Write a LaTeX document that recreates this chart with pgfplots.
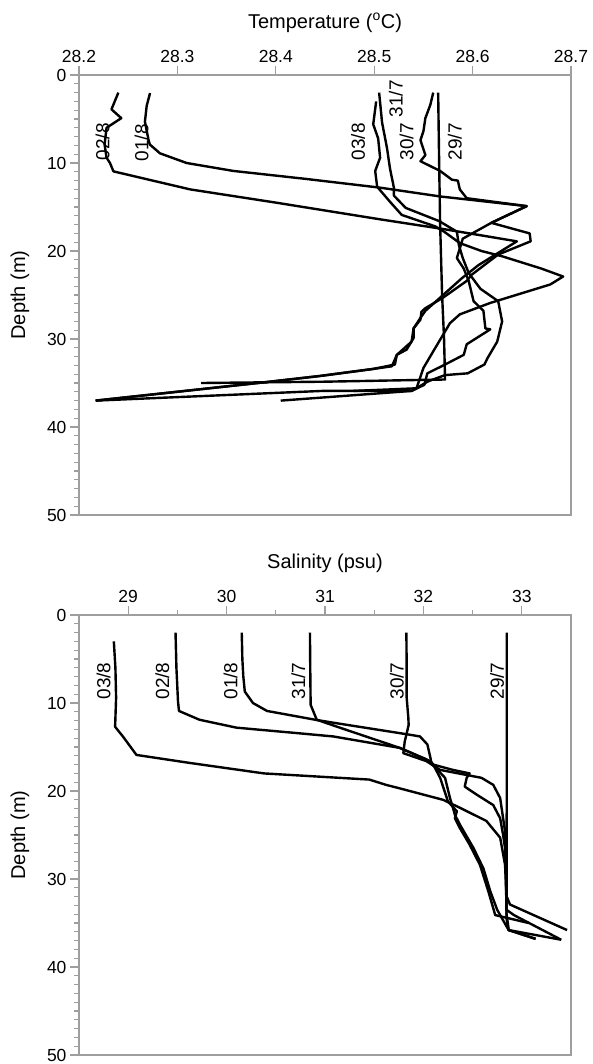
\documentclass[border=0pt]{standalone}
\usepackage{fontspec}
\setmainfont{Liberation Sans}
\usepackage{pgfplots}
\pgfplotsset{compat=1.18}
\definecolor{axgray}{gray}{0.62}
\tikzset{lab/.style={rotate=90, font=\fontsize{19}{19}\selectfont, inner sep=0pt}}
\begin{document}
\begin{tikzpicture}
\useasboundingbox (0pt,-2pt) rectangle (592pt,-1066pt);
\pgfplotsset{
  prof/.style={black, line width=2.4pt, line join=round, no markers, sharp plot},
  common/.style={
    scale only axis, width=492pt, height=440pt,
    y dir=reverse, ymin=0, ymax=50, ytick={0,10,...,50}, minor y tick num=9,
    xtick pos=right, xticklabel pos=right, ytick pos=left,
    tick align=outside, major tick length=9pt, minor tick length=5pt,
    axis line style={axgray, line width=1.2pt},
    tick style={axgray, line width=1.1pt},
    tick label style={font=\fontsize{17.5}{17.5}\selectfont, text=black},
    /pgf/number format/assume math mode=true,
    label style={font=\fontsize{20}{20}\selectfont},
    ylabel={Depth (m)},
    ylabel style={at={(axis description cs:0,0.5)}, anchor=center, yshift=59pt},
    xlabel style={at={(axis description cs:0.5,1)}, anchor=base, yshift=47pt},
    clip=false,
  }
}
% ---------------- Temperature ----------------
\begin{axis}[common, at={(79pt,-517pt)}, anchor=south west,
  xmin=28.2, xmax=28.7, xtick={28.2,28.3,28.4,28.5,28.6,28.7},
  xticklabel style={/pgf/number format/.cd, fixed, fixed zerofill, precision=1},
  xlabel={Temperature (\textsuperscript{o}C)}]
% 02/8
\addplot[prof] coordinates {(28.240,2.0)(28.233,3.9)(28.243,4.9)(28.228,6.0)(28.226,7.9)(28.228,9.4)(28.2315,10.0)(28.235,10.95)(28.313,13.0)(28.40,14.5)(28.506,16.4)(28.570,17.5)(28.645,18.9)(28.632,19.8)(28.606,21.6)(28.589,23.1)(28.570,25.0)(28.552,26.8)(28.547,27.6)(28.540,28.8)(28.540,29.9)(28.533,31.2)(28.523,31.8)(28.521,32.9)(28.499,33.4)(28.445,34.2)(28.39,34.9)(28.217,37.0)};
% 01/8
\addplot[prof] coordinates {(28.2722,2.05)(28.2688,3.5)(28.267,5.3)(28.2705,7.3)(28.272,7.9)(28.2823,8.9)(28.3094,10.0)(28.3568,10.9)(28.43,11.8)(28.5059,12.8)(28.567,13.8)(28.655,14.9)(28.619,16.8)(28.658,18.0)(28.659,18.9)(28.626,20.4)(28.599,22.7)(28.594,23.4)(28.570,25.3)(28.552,26.5)(28.548,26.9)(28.547,27.8)(28.540,28.8)(28.538,30.3)(28.523,31.8)(28.518,33.1)(28.499,33.4)(28.445,34.2)(28.39,34.9)(28.217,37.0)};
% 30/7
\addplot[prof] coordinates {(28.560,2.0)(28.557,3.4)(28.552,4.9)(28.550,6.4)(28.547,7.4)(28.552,9.1)(28.547,9.8)(28.567,10.9)(28.579,11.9)(28.585,12.0)(28.587,13.0)(28.594,14.0)(28.655,14.9)(28.619,16.8)(28.59,18.6)(28.584,20.8)(28.591,22.0)(28.596,23.4)(28.601,25.7)(28.611,26.8)(28.613,28.8)(28.618,28.9)(28.594,30.6)(28.591,31.8)(28.572,32.9)(28.554,33.9)(28.551,35.2)(28.538,35.9)(28.405,37.0)};
% 31/7
\addplot[prof] coordinates {(28.505,2.0)(28.508,5.4)(28.513,8.3)(28.516,10.6)(28.520,12.8)(28.520,13.7)(28.532,15.1)(28.566,16.6)(28.584,17.8)(28.586,19.3)(28.590,20.8)(28.596,22.5)(28.608,24.3)(28.626,25.7)(28.630,28.0)(28.625,30.3)(28.615,32.2)(28.612,32.9)(28.595,33.9)(28.572,34.1)(28.555,34.8)(28.538,35.9)(28.447,35.9)(28.217,37.0)};
% 03/8
\addplot[prof] coordinates {(28.502,3.0)(28.499,5.6)(28.504,7.2)(28.506,9.4)(28.501,10.9)(28.503,12.7)(28.516,14.4)(28.528,15.9)(28.562,17.2)(28.571,17.8)(28.587,19.1)(28.609,20.0)(28.630,20.6)(28.670,22.0)(28.692,22.9)(28.679,23.8)(28.618,25.9)(28.587,27.2)(28.577,28.2)(28.560,31.4)(28.550,33.3)(28.543,35.6)(28.479,35.9)};
% 29/7
\addplot[prof] coordinates {(28.565,2.0)(28.566,10)(28.567,17)(28.569,25)(28.571,30)(28.572,34.6)(28.45,34.85)(28.324,35.0)};
\node[lab] at (axis cs:28.224,7.6) {02/8};
\node[lab] at (axis cs:28.2635,7.7) {01/8};
\node[lab] at (axis cs:28.4835,7.6) {03/8};
\node[lab] at (axis cs:28.522,2.7) {31/7};
\node[lab] at (axis cs:28.533,7.6) {30/7};
\node[lab] at (axis cs:28.582,7.6) {29/7};
\end{axis}
% ---------------- Salinity ----------------
\begin{axis}[common, at={(79pt,-1057pt)}, anchor=south west,
  xmin=28.5, xmax=33.5, xtick={29,30,31,32,33}, minor x tick num=1,
  xlabel={Salinity (psu)}]
% 03/8
\addplot[prof] coordinates {(28.854,3.0)(28.87,6.0)(28.877,9.4)(28.867,12.7)(28.946,13.8)(29.084,15.9)(29.62,16.8)(30.38,18.0)(31.45,18.7)(31.62,19.3)(31.76,19.7)(32.20,21.0)(32.37,21.9)(32.64,23.4)(32.78,25.3)(32.83,28.4)(32.84,31.0)(32.845,34.0)(32.86,35.2)(32.866,35.8)(33.14,36.8)};
% 02/8
\addplot[prof] coordinates {(29.481,2.0)(29.49,6.0)(29.506,9.8)(29.516,10.9)(29.724,11.9)(30.10,12.8)(30.746,13.45)(31.085,13.8)(31.76,15.1)(32.067,16.6)(32.10,17.0)(32.30,17.6)(32.47,18.0)(32.44,18.5)(32.42,19.5)(32.54,20.4)(32.71,21.6)(32.78,23.1)(32.81,25.0)(32.83,26.5)(32.84,30.0)(32.845,33.5)(32.92,34.1)(33.40,36.9)};
% 01/8
\addplot[prof] coordinates {(30.154,2.0)(30.16,5.0)(30.17,7.0)(30.185,8.7)(30.268,10.0)(30.41,10.9)(30.90,11.9)(31.12,12.3)(31.86,13.6)(31.965,13.8)(32.04,14.7)(32.067,16.0)(32.08,16.7)(32.10,17.0)(32.17,18.5)(32.25,21.2)(32.34,22.3)(32.32,23.1)(32.37,24.2)(32.47,26.1)(32.575,28.4)(32.66,31.4)(32.73,34.1)(33.07,35.0)};
% 31/7
\addplot[prof] coordinates {(30.847,2.0)(30.85,6.0)(30.854,10.2)(30.916,11.9)(31.15,12.8)(31.76,15.1)(32.03,16.4)(32.12,17.3)(32.22,18.5)(32.27,20.8)(32.30,21.9)(32.32,22.7)(32.37,23.8)(32.51,26.5)(32.61,28.8)(32.68,31.4)(32.75,33.5)(32.866,35.8)(33.14,36.8)};
% 30/7
\addplot[prof] coordinates {(31.827,2.0)(31.83,6.0)(31.83,9.4)(31.847,11.7)(31.85,12.5)(31.81,14.4)(31.796,15.7)(32.03,16.6)(32.17,17.6)(32.59,18.5)(32.71,19.3)(32.78,20.8)(32.81,23.1)(32.83,24.6)(32.84,30.0)(32.845,34.5)(32.866,35.8)(33.40,36.9)};
% 29/7
\addplot[prof] coordinates {(32.847,2.0)(32.847,20.0)(32.845,30.0)(32.847,32.0)(32.88,32.9)(33.12,34.1)(33.46,35.8)};
\node[lab] at (axis cs:28.75,7.5) {03/8};
\node[lab] at (axis cs:29.347,7.5) {02/8};
\node[lab] at (axis cs:30.04,7.5) {01/8};
\node[lab] at (axis cs:30.73,7.5) {31/7};
\node[lab] at (axis cs:31.73,7.5) {30/7};
\node[lab] at (axis cs:32.75,7.5) {29/7};
\end{axis}
\end{tikzpicture}
\end{document}
